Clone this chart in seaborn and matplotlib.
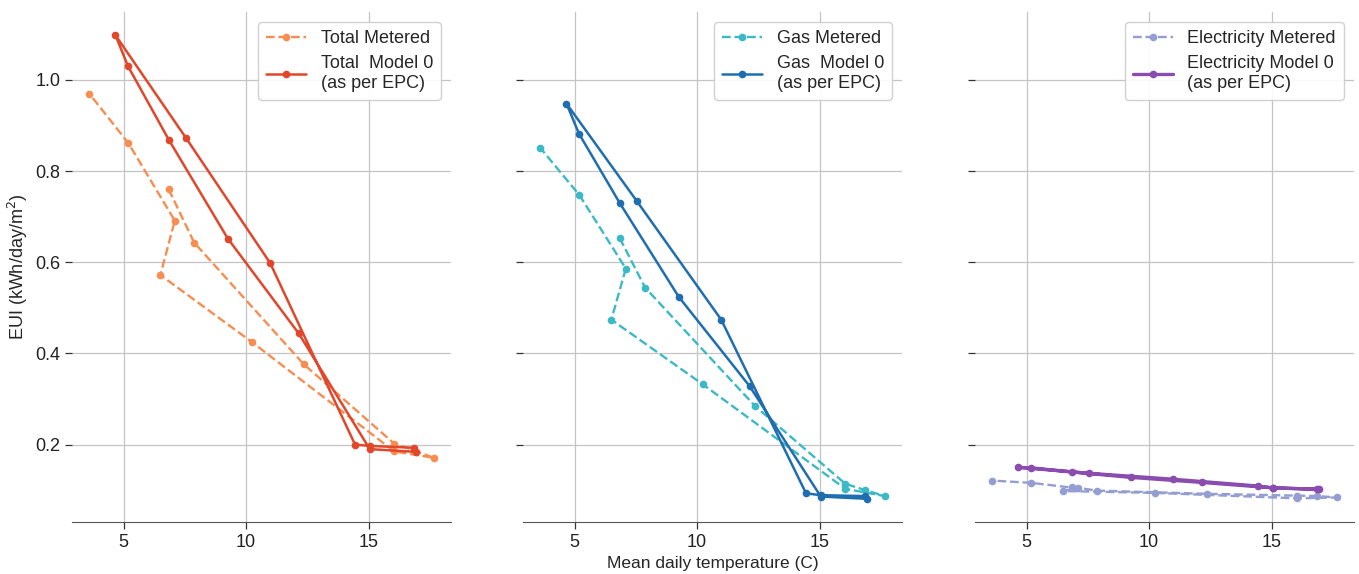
import matplotlib
matplotlib.use("Agg")
import matplotlib.pyplot as plt
import seaborn as sns
import pandas as pd

# Monthly mean daily temperatures (C), in the order the months are plotted
temp_metered = [6.84, 7.88, 12.35, 16.04, 16.86, 17.65, 16.04, 10.23, 6.50, 7.09, 5.20, 3.60]
temp_model = [16.83, 15.04, 14.44, 10.98, 7.54, 4.67, 5.18, 6.84, 9.25, 12.14, 15.04, 16.93]

# Energy use intensity (kWh/day/m2)
total_metered = [0.760, 0.643, 0.376, 0.202, 0.187, 0.171, 0.185, 0.425, 0.572, 0.691, 0.861, 0.970]
total_model = [0.193, 0.197, 0.200, 0.598, 0.873, 1.098, 1.030, 0.869, 0.652, 0.444, 0.190, 0.184]

gas_metered = [0.653, 0.544, 0.285, 0.114, 0.100, 0.087, 0.103, 0.332, 0.474, 0.586, 0.747, 0.851]
gas_model = [0.087, 0.089, 0.093, 0.474, 0.734, 0.948, 0.882, 0.730, 0.524, 0.328, 0.086, 0.081]

elec_metered = [0.107, 0.099, 0.092, 0.088, 0.087, 0.084, 0.082, 0.094, 0.098, 0.104, 0.116, 0.121]
elec_model = [0.102, 0.105, 0.109, 0.124, 0.137, 0.150, 0.149, 0.140, 0.128, 0.117, 0.105, 0.102]

panels = [
    ("Total Metered", "Total  Model 0\n(as per EPC)", total_metered, total_model, "#f88d52", "#e0472b"),
    ("Gas Metered", "Gas  Model 0\n(as per EPC)", gas_metered, gas_model, "#3cb9c6", "#1f6eb0"),
    ("Electricity Metered", "Electricity Model 0\n(as per EPC)", elec_metered, elec_model, "#949ed2", "#8a4cae"),
]

sns.set_style("ticks")
plt.rcParams["font.family"] = ["Liberation Sans", "DejaVu Sans"]
plt.rcParams["font.size"] = 13
plt.rcParams["xtick.labelsize"] = 13
plt.rcParams["ytick.labelsize"] = 13

fig, axes = plt.subplots(1, 3, figsize=(13.59, 5.74), dpi=100, sharex=True, sharey=True)

lefts = [72, 523, 975]
for ax, left in zip(axes, lefts):
    ax.set_position([left / 1359, 1 - 522 / 574, 379 / 1359, 510 / 574])

for ax, (lab_m, lab_p, met, mod, c_m, c_p) in zip(axes, panels):
    df_m = pd.DataFrame({"temp": temp_metered, "eui": met})
    df_p = pd.DataFrame({"temp": temp_model, "eui": mod})
    sns.lineplot(data=df_m, x="temp", y="eui", sort=False, estimator=None, ax=ax,
                 color=c_m, linestyle="--", linewidth=1.7, marker="o", markersize=5.5,
                 markeredgewidth=0, label=lab_m)
    lw = 2.4 if lab_m.startswith("Electricity") else 1.8
    sns.lineplot(data=df_p, x="temp", y="eui", sort=False, estimator=None, ax=ax,
                 color=c_p, linestyle="-", linewidth=lw, marker="o", markersize=5.5,
                 markeredgewidth=0, label=lab_p)
    ax.grid(True, color="#c4c4c4", linewidth=0.9)
    ax.set_axisbelow(True)
    ax.set_xlabel("")
    ax.set_ylabel("")
    sns.despine(ax=ax, left=True)
    ax.spines["bottom"].set_color("#555555")
    ax.tick_params(axis="both", colors="#333333", labelcolor="#222222", length=5, width=0.9)
    ax.legend(loc="upper right", fontsize=13, handlelength=2.2, frameon=True,
              fancybox=True, edgecolor="#cccccc", framealpha=0.9,
              labelspacing=0.45, borderpad=0.45, borderaxespad=0.55)

axes[0].set_xticks([5, 10, 15])
axes[0].set_yticks([0.2, 0.4, 0.6, 0.8, 1.0])
axes[0].set_ylabel("EUI (kWh/day/m$^2$)", fontsize=13)
axes[1].set_xlabel("Mean daily temperature (C)", fontsize=12.5)

fig.savefig("out.png", dpi=100)
